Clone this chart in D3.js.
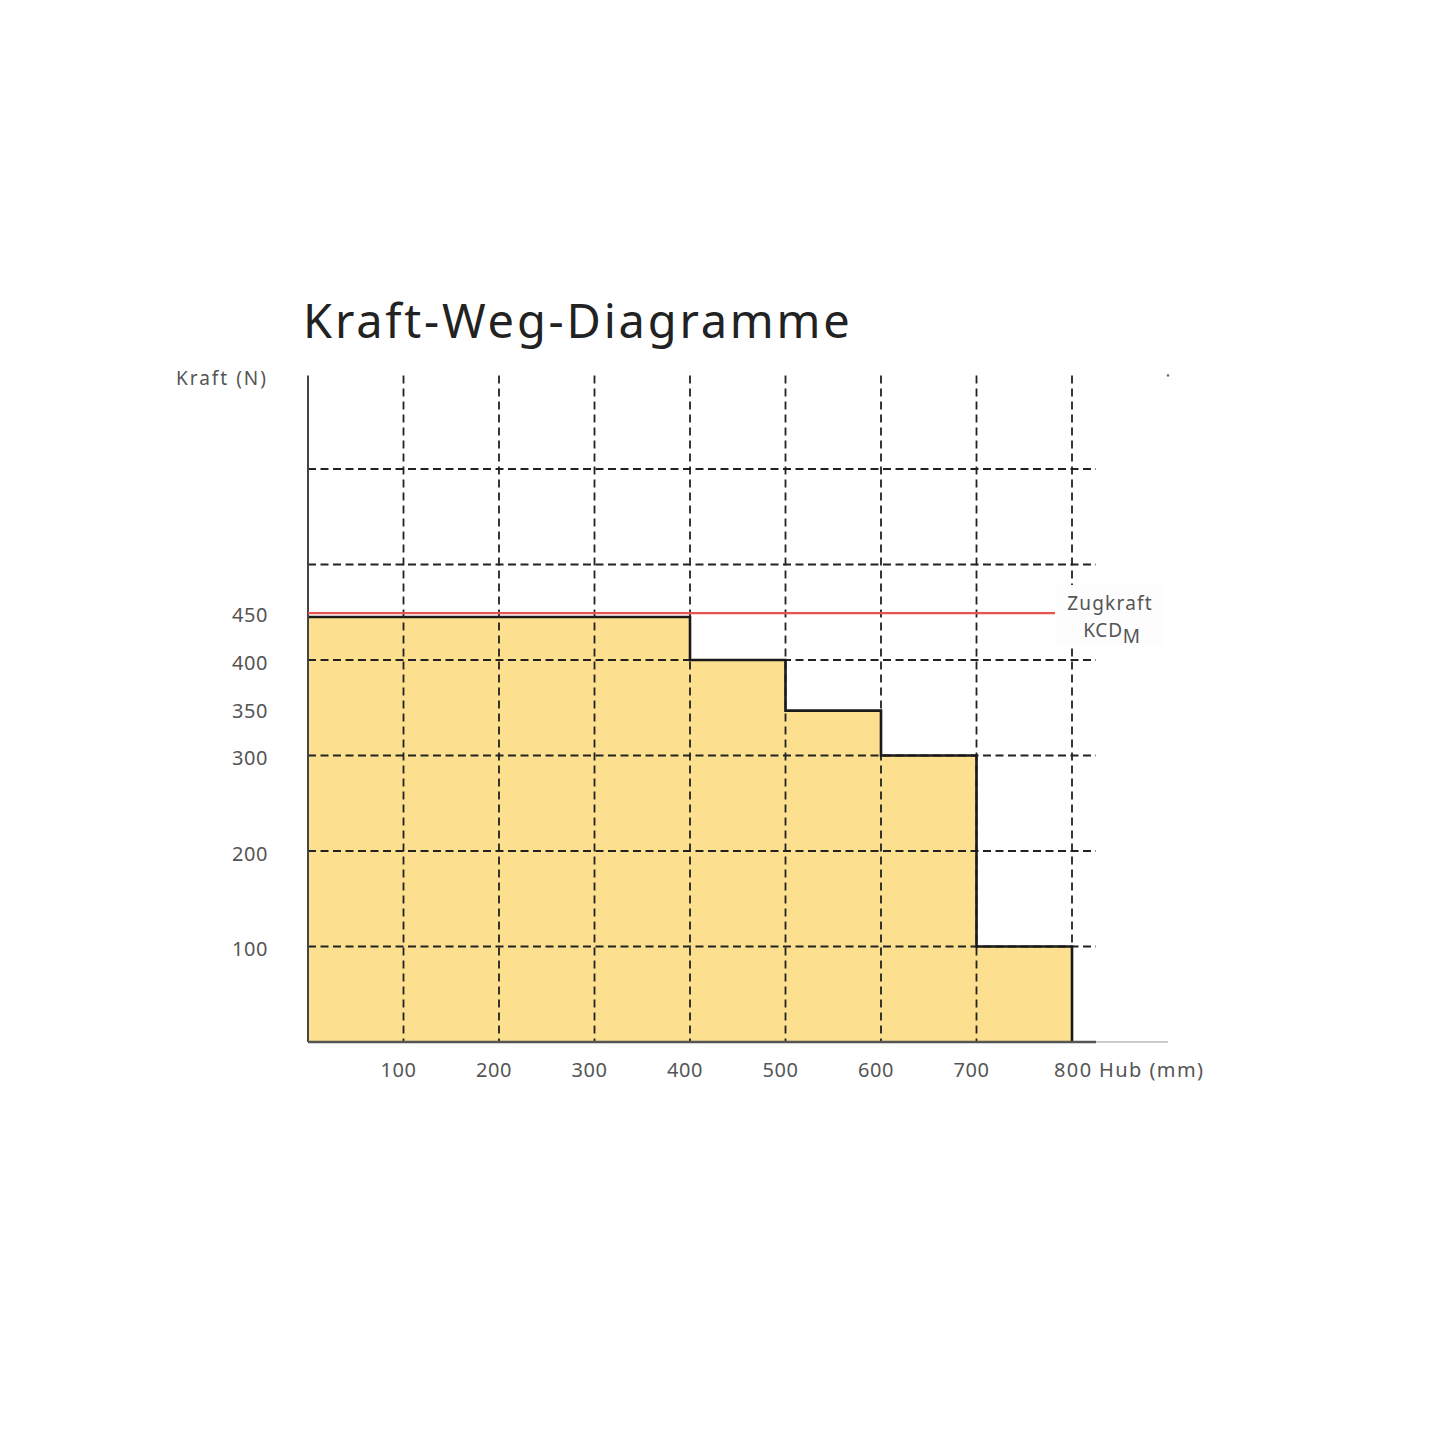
<!DOCTYPE html>
<html>
<head>
<meta charset="utf-8">
<script src="https://cdn.jsdelivr.net/npm/d3@7"></script>
<style>
  body { margin: 0; background: #fff; }
  text { font-family: "Noto Sans", Lato, sans-serif; }
</style>
</head>
<body>
<div id="chart"></div>
<script>
// Hub (mm) where the force level starts, and the force (N) from there on
const hubSteps = [0, 400, 500, 600, 700, 800];
const kraftSteps = [445, 400, 347, 300, 100, 100];
const zugkraft = 449;

const xGrid = [100, 200, 300, 400, 500, 600, 700, 800];
const xLabels = ["100", "200", "300", "400", "500", "600", "700"];
const yGrid = [100, 200, 300, 400, 500, 600];
const yLabels = [100, 200, 300, 350, 400, 450];

const width = 1445;
const height = 1445;

const svg = d3.select("#chart")
  .append("svg")
  .attr("width", width)
  .attr("height", height);

const x = d3.scaleLinear().domain([0, 800]).range([308, 1072]);
const y = d3.scaleLinear().domain([0, 400]).range([1042, 660]);
const yTop = y(698);

// title
svg.append("text")
  .attr("x", 303)
  .attr("y", 338)
  .attr("font-size", 47)
  .attr("letter-spacing", 2.8)
  .attr("fill", "#222")
  .text("Kraft-Weg-Diagramme");

// filled step area
const steps = hubSteps.map((h, i) => ({ h: h, k: kraftSteps[i] }));

const area = d3.area()
  .x(d => x(d.h))
  .y0(y(0))
  .y1(d => y(d.k))
  .curve(d3.curveStepAfter);

svg.append("path")
  .datum(steps)
  .attr("fill", "#fde08f")
  .attr("d", area);

// dashed grid
svg.selectAll(".hgrid")
  .data(yGrid)
  .enter().append("line")
  .attr("x1", x(0))
  .attr("x2", x(800) + 24)
  .attr("y1", d => y(d))
  .attr("y2", d => y(d))
  .attr("stroke", "#222")
  .attr("stroke-width", 1.8)
  .attr("stroke-dasharray", "8,4.5");

svg.selectAll(".vgrid")
  .data(xGrid)
  .enter().append("line")
  .attr("x1", d => x(d))
  .attr("x2", d => x(d))
  .attr("y1", yTop)
  .attr("y2", y(0))
  .attr("stroke", "#222")
  .attr("stroke-width", 1.8)
  .attr("stroke-dasharray", "8,5");

// step outline
const outline = d3.line()
  .x(d => x(d.h))
  .y(d => y(d.k))
  .curve(d3.curveStepAfter);

svg.append("path")
  .datum(steps.concat([{ h: 800, k: 0 }]))
  .attr("fill", "none")
  .attr("stroke", "#1a1a1a")
  .attr("stroke-width", 2.6)
  .attr("d", outline);

// axes
svg.append("line")
  .attr("x1", x(0)).attr("x2", x(0))
  .attr("y1", yTop).attr("y2", y(0))
  .attr("stroke", "#444")
  .attr("stroke-width", 2);

svg.append("line")
  .attr("x1", x(0)).attr("x2", x(800) + 24)
  .attr("y1", y(0)).attr("y2", y(0))
  .attr("stroke", "#555")
  .attr("stroke-width", 2.4);

svg.append("line")
  .attr("x1", x(800) + 24).attr("x2", 1168)
  .attr("y1", y(0)).attr("y2", y(0))
  .attr("stroke", "#bbb")
  .attr("stroke-width", 1.5);

svg.append("circle")
  .attr("cx", 1168)
  .attr("cy", yTop)
  .attr("r", 1.3)
  .attr("fill", "#777");

// Zugkraft line
svg.append("line")
  .attr("x1", x(0)).attr("x2", 1055)
  .attr("y1", y(zugkraft)).attr("y2", y(zugkraft))
  .attr("stroke", "#e8534b")
  .attr("stroke-width", 2.2);

// label box hides the grid behind it
svg.append("rect")
  .attr("x", 1056)
  .attr("y", 585)
  .attr("width", 108)
  .attr("height", 60)
  .attr("fill", "#fdfdfd");

svg.append("text")
  .attr("x", 1110)
  .attr("y", 610)
  .attr("text-anchor", "middle")
  .attr("font-size", 19)
  .attr("letter-spacing", 1.2)
  .attr("fill", "#555")
  .text("Zugkraft");

const kcd = svg.append("text")
  .attr("x", 1112)
  .attr("y", 637)
  .attr("text-anchor", "middle")
  .attr("font-size", 19)
  .attr("letter-spacing", 0.8)
  .attr("fill", "#555");
kcd.append("tspan").text("KCD");
kcd.append("tspan").attr("dy", 6).attr("font-size", 19).text("M");

// y tick labels
svg.append("g")
  .attr("transform", "translate(268,0)")
  .call(d3.axisLeft(y).tickValues(yLabels).tickSize(0).tickPadding(0))
  .call(g => g.select(".domain").remove())
  .selectAll("text")
  .attr("font-family", "'Noto Sans', Lato, sans-serif")
  .attr("font-size", 20)
  .attr("letter-spacing", 0.6)
  .attr("fill", "#555")
  .attr("dy", "0.47em");

svg.append("text")
  .attr("x", 268)
  .attr("y", 385)
  .attr("text-anchor", "end")
  .attr("font-size", 19)
  .attr("letter-spacing", 2)
  .attr("fill", "#555")
  .text("Kraft (N)");

// x tick labels
svg.selectAll(".xlab")
  .data(xLabels)
  .enter().append("text")
  .attr("x", d => x(+d) - 5)
  .attr("y", 1077)
  .attr("text-anchor", "middle")
  .attr("font-size", 20)
  .attr("letter-spacing", 0.6)
  .attr("fill", "#555")
  .text(d => d);

svg.append("text")
  .attr("x", x(800) - 18)
  .attr("y", 1077)
  .attr("font-size", 20)
  .attr("letter-spacing", 1.4)
  .attr("fill", "#555")
  .text("800 Hub (mm)");
</script>
</body>
</html>
